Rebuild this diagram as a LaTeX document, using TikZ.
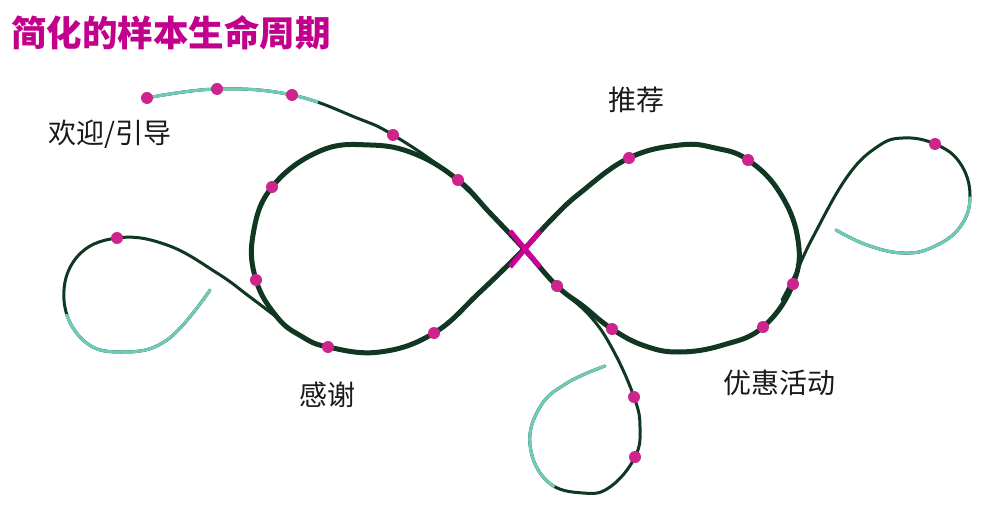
\documentclass[tikz,border=0pt]{standalone}
\usepackage{fontspec}
\newfontfamily\cjk{Noto Sans CJK SC}
\definecolor{darkg}{RGB}{15,55,33}
\definecolor{tealc}{RGB}{110,203,184}
\definecolor{dotm}{RGB}{206,36,142}
\definecolor{xmag}{RGB}{204,0,153}
\definecolor{titlem}{RGB}{194,0,140}
\definecolor{labc}{RGB}{26,26,26}
\tikzset{
  thinline/.style={draw=darkg,line width=3pt,line cap=round},
  tealline/.style={draw=tealc,line width=3pt,line cap=round},
  thickline/.style={draw=darkg,line width=5pt},
  xline/.style={draw=xmag,line width=5pt},
  dot/.style={circle,fill=dotm,inner sep=0pt,minimum size=12pt},
  lab/.style={font=\cjk\fontsize{28}{32}\selectfont,text=labc,inner sep=0pt},
  titlestyle/.style={font=\cjk\bfseries\fontsize{35.5}{40}\selectfont,text=titlem,inner sep=0pt,anchor=west}
}
\begin{document}
\begin{tikzpicture}[x=1pt,y=-1pt]
\useasboundingbox (0,0) rectangle (1000,510);
% title
\node[titlestyle] (title) at (11,33) {简化的样本生命周期};
% thin curve A (top-left tail to bottom curl)
\draw[thinline] plot[smooth,tension=0.7] coordinates {(147,98) (217,89) (292,95) (357,118) (393,135) (447,172) (490,213) (524,249) (557,286) (590,316) (613,350) (634,397) (640,427) (635,457) (610,487) (583,493) (548,482) (530,445) (540,407) (567,383) (605,366)};
\begin{scope}
\clip (100,50) rectangle (318,125);
\draw[tealline] plot[smooth,tension=0.7] coordinates {(147,98) (217,89) (292,95) (357,118) (393,135) (447,172) (490,213)};
\end{scope}
\begin{scope}
\clip (500,335) -- (600,335) -- (617,370) -- (560,470) -- (550,500) -- (500,500) -- cycle;
\draw[tealline] plot[smooth,tension=0.7] coordinates {(613,350) (634,397) (640,427) (635,457) (610,487) (583,493) (548,482) (530,445) (540,407) (567,383) (605,366)};
\end{scope}
% thin curve B (left curl)
\draw[thinline] plot[smooth,tension=0.7] coordinates {(210,290) (167,340) (120,352) (83,340) (64,300) (77,257) (117,238) (167,245) (217,273) (250,297) (279,319)};
\begin{scope}
\clip (0,314) -- (120,314) -- (195,282) -- (225,282) -- (225,400) -- (0,400) -- cycle;
\draw[tealline] plot[smooth,tension=0.7] coordinates {(210,290) (167,340) (120,352) (83,340) (64,300) (77,257) (117,238)};
\end{scope}
% thin curve C (right curl)
\draw[thinline] plot[smooth,tension=0.7] coordinates {(782,300) (795,275) (813,237) (847,177) (877,147) (903,138) (935,144) (960,163) (970,196) (960,227) (933,247) (903,253) (867,245) (836,230)};
\begin{scope}
\clip (834,214) -- (990,194) -- (990,300) -- (834,300) -- cycle;
\draw[tealline] plot[smooth,tension=0.7] coordinates {(877,147) (903,138) (935,144) (960,163) (970,196) (960,227) (933,247) (903,253) (867,245) (836,230)};
\end{scope}
% main figure eight
\draw[thickline] plot[smooth cycle,tension=0.7] coordinates {(524,249) (551,220) (580,193) (629,158) (680,145) (715,148) (748,160) (780,193) (798,240) (793,284) (763,327) (723,345) (680,352) (645,346) (612,329) (583,306) (557,286) (524,249) (490,213) (458,180) (415,154) (370,145) (320,151) (272,187) (253,235) (256,280) (277,317) (301,336) (328,347) (380,352) (434,333) (480,292)};
% crossing mark
\coordinate (xa) at (510,231);
\coordinate (xb) at (540,267);
\coordinate (xd) at (540,231);
\coordinate (xe) at (510,267);
\draw[xline] (xa) -- (xb);
\draw[xline] (xd) -- (xe);
% dots
\node[dot] (d1) at (147,98) {};
\node[dot] (d2) at (217,89) {};
\node[dot] (d3) at (292,95) {};
\node[dot] (d4) at (393,135) {};
\node[dot] (d5) at (458,180) {};
\node[dot] (d6) at (272,187) {};
\node[dot] (d7) at (256,280) {};
\node[dot] (d8) at (328,347) {};
\node[dot] (d9) at (434,333) {};
\node[dot] (d10) at (117,238) {};
\node[dot] (d11) at (629,158) {};
\node[dot] (d12) at (748,160) {};
\node[dot] (d13) at (793,284) {};
\node[dot] (d14) at (763,327) {};
\node[dot] (d15) at (612,329) {};
\node[dot] (d16) at (557,286) {};
\node[dot] (d17) at (935,144) {};
\node[dot] (d18) at (634,397) {};
\node[dot] (d19) at (635,457) {};
% labels
\node[lab] (l1) at (110,134) {欢迎/引导};
\node[lab] (l2) at (636,100) {推荐};
\node[lab] (l3) at (327,395) {感谢};
\node[lab] (l4) at (779,383) {优惠活动};
\end{tikzpicture}
\end{document}
